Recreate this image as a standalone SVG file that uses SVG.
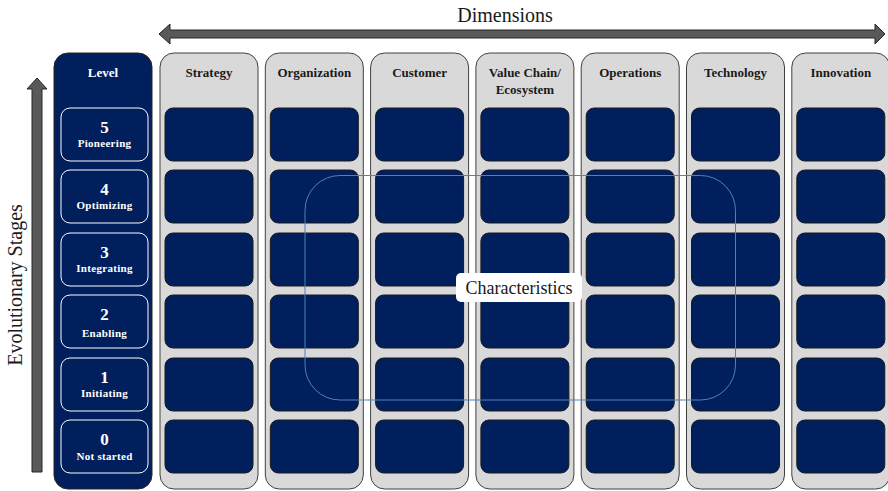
<svg xmlns="http://www.w3.org/2000/svg" width="888" height="491" viewBox="0 0 888 491">
<style>
.col{fill:#d9d9d9;stroke:#404040;stroke-width:1}
.cell{fill:#001f5c;stroke:#1a1a1a;stroke-width:1}
.lvl{fill:#001f5c;stroke:#262626;stroke-width:1}
.lcell{fill:#001f5c;stroke:#ffffff;stroke-width:1}
.arr{fill:#595959;stroke:#262626;stroke-width:1}
</style>
<defs>
<g id="cells">
<rect class="cell" x="5" y="108" width="88" height="53" rx="8"/>
<rect class="cell" x="5" y="170" width="88" height="53" rx="8"/>
<rect class="cell" x="5" y="233" width="88" height="53" rx="8"/>
<rect class="cell" x="5" y="295" width="88" height="53" rx="8"/>
<rect class="cell" x="5" y="358" width="88" height="53" rx="8"/>
<rect class="cell" x="5" y="420" width="88" height="53" rx="8"/>
</g>
</defs>

<g id="dimensions-arrow">
<polygon class="arr" points="159,34 170,24 170,30 875,30 875,24 885,34 875,44 875,38 170,38 170,44"/>
<text x="505" y="22" font-family="Times New Roman, Liberation Serif, serif" font-size="20" fill="#1a1a1a" text-anchor="middle">Dimensions</text>
</g>

<g id="stages-arrow">
<polygon class="arr" points="37,78 47,89 42,89 42,472 32,472 32,89 27,89"/>
<text font-family="Times New Roman, Liberation Serif, serif" font-size="20" fill="#1a1a1a" text-anchor="middle" transform="translate(22,285) rotate(-90)">Evolutionary Stages</text>
</g>

<g id="level" font-family="Times New Roman, Liberation Serif, serif" font-weight="bold" fill="#ffffff" text-anchor="middle">
<rect class="lvl" x="54" y="53" width="98" height="436" rx="14"/>
<text x="103" y="77" font-size="13">Level</text>
<rect class="lcell" x="61" y="108" width="87" height="53" rx="9"/>
<text x="104.5" y="133" font-size="17">5</text><text x="104.5" y="147" font-size="11" letter-spacing="0.3">Pioneering</text>
<rect class="lcell" x="61" y="170" width="87" height="53" rx="9"/>
<text x="104.5" y="195" font-size="17">4</text><text x="104.5" y="209" font-size="11" letter-spacing="0.3">Optimizing</text>
<rect class="lcell" x="61" y="233" width="87" height="53" rx="9"/>
<text x="104.5" y="258" font-size="17">3</text><text x="104.5" y="272" font-size="11" letter-spacing="0.3">Integrating</text>
<rect class="lcell" x="61" y="295" width="87" height="53" rx="9"/>
<text x="104.5" y="320" font-size="17">2</text><text x="104.5" y="337" font-size="11" letter-spacing="0.3">Enabling</text>
<rect class="lcell" x="61" y="358" width="87" height="53" rx="9"/>
<text x="104.5" y="383" font-size="17">1</text><text x="104.5" y="397" font-size="11" letter-spacing="0.3">Initiating</text>
<rect class="lcell" x="61" y="420" width="87" height="53" rx="9"/>
<text x="104.5" y="445" font-size="17">0</text><text x="104.5" y="460" font-size="11" letter-spacing="0.3">Not started</text>
</g>

<g font-family="Times New Roman, Liberation Serif, serif" font-weight="bold" font-size="13" fill="#1a1a1a" text-anchor="middle">
<g id="strategy" transform="translate(160,0)">
<rect class="col" x="0" y="53" width="98" height="436" rx="14"/>
<text x="49" y="77">Strategy</text>
<use href="#cells"/>
</g>
<g id="organization" transform="translate(265.3,0)">
<rect class="col" x="0" y="53" width="98" height="436" rx="14"/>
<text x="49" y="77">Organization</text>
<use href="#cells"/>
</g>
<g id="customer" transform="translate(370.6,0)">
<rect class="col" x="0" y="53" width="98" height="436" rx="14"/>
<text x="49" y="77">Customer</text>
<use href="#cells"/>
</g>
<g id="value-chain" transform="translate(475.9,0)">
<rect class="col" x="0" y="53" width="98" height="436" rx="14"/>
<text x="49" y="77">Value Chain/</text>
<text x="49" y="94">Ecosystem</text>
<use href="#cells"/>
</g>
<g id="operations" transform="translate(581.2,0)">
<rect class="col" x="0" y="53" width="98" height="436" rx="14"/>
<text x="49" y="77">Operations</text>
<use href="#cells"/>
</g>
<g id="technology" transform="translate(686.5,0)">
<rect class="col" x="0" y="53" width="98" height="436" rx="14"/>
<text x="49" y="77">Technology</text>
<use href="#cells"/>
</g>
<g id="innovation" transform="translate(791.8,0)">
<rect class="col" x="0" y="53" width="98" height="436" rx="14"/>
<text x="49" y="77">Innovation</text>
<use href="#cells"/>
</g>
</g>

<g id="characteristics">
<rect x="305" y="175.5" width="430.5" height="224.5" rx="35" fill="none" stroke="#4f81bd" stroke-width="1"/>
<rect x="456" y="273" width="126" height="29" rx="5" fill="#ffffff"/>
<text x="519" y="294" font-family="Times New Roman, Liberation Serif, serif" font-size="18" fill="#1a1a1a" text-anchor="middle">Characteristics</text>
</g>
</svg>
